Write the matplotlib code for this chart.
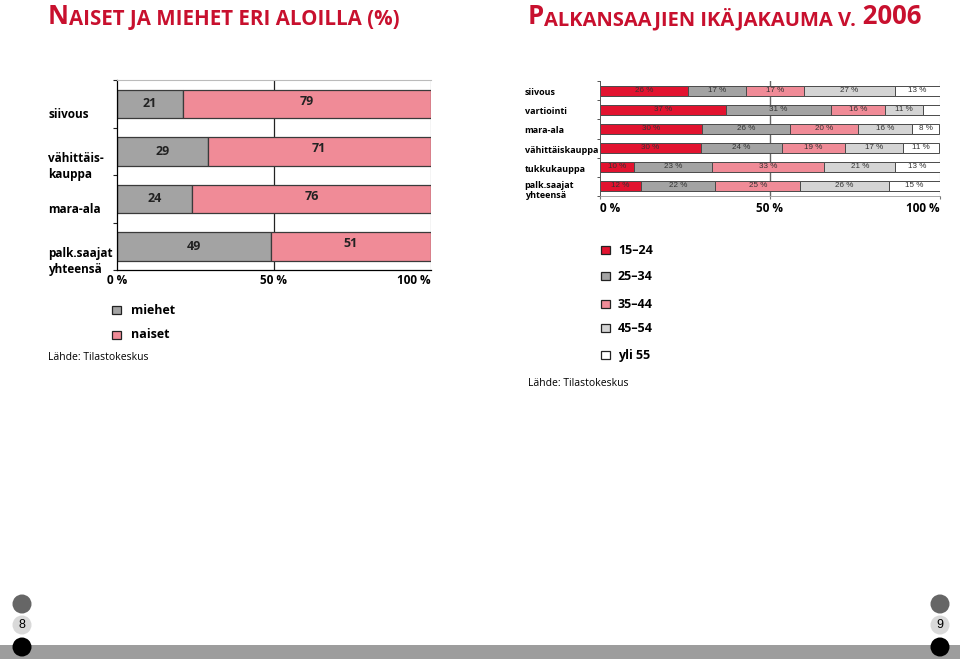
import matplotlib
matplotlib.use('Agg')
import numpy as np
import matplotlib.pyplot as plt
from matplotlib.patches import Rectangle, Circle

plt.rcParams['font.family'] = ['Open Sans', 'DejaVu Sans']

# vasen kaavio: naiset ja miehet eri aloilla (%)
ala = ['siivous', 'vähittäis-\nkauppa', 'mara-ala', 'palk.saajat\nyhteensä']
miehet = [21, 29, 24, 49]
naiset = [79, 71, 76, 51]

# oikea kaavio: palkansaajien ikäjakauma v. 2006
ika_ala = ['siivous', 'vartiointi', 'mara-ala', 'vähittäiskauppa', 'tukkukauppa',
           'palk.saajat\nyhteensä']
ikaryhmat = ['15–24', '25–34', '35–44', '45–54', 'yli 55']
ika_15_24 = [26, 37, 30, 30, 10, 12]
ika_25_34 = [17, 31, 26, 24, 23, 22]
ika_35_44 = [17, 16, 20, 19, 33, 25]
ika_45_54 = [27, 11, 16, 17, 21, 26]
ika_yli55 = [13, 5, 8, 11, 13, 15]

punainen = '#c8102e'
c_gray = '#a3a3a3'
c_pink = '#f08b97'
c_red = '#e2132f'
c_lgray = '#d4d4d4'
ika_colors = [c_red, c_gray, c_pink, c_lgray, 'white']

W, H = 960, 659
fig = plt.figure(figsize=(W / 100, H / 100), dpi=100)

# taustakerros pikseleinä
bg = fig.add_axes([0, 0, 1, 1])
bg.set_xlim(0, W)
bg.set_ylim(H, 0)
bg.axis('off')


def otsikko(x, y, osat):
    prev = None
    for txt, size in osat:
        if prev is None:
            prev = bg.text(x, y, txt, fontsize=size, color=punainen, fontweight='bold',
                           va='baseline', ha='left')
        else:
            prev = bg.annotate(txt, xy=(1, 0), xycoords=prev, fontsize=size, color=punainen,
                               fontweight='bold', va='bottom', ha='left')


otsikko(48, 24, [('N', 18.5), ('AISET JA MIEHET ERI ALOILLA (%)', 14.8)])
otsikko(528, 24, [('P', 18.5), ('ALKANSAAJIEN IKÄJAKAUMA V.', 14.5), (' 2006', 18.5)])

# ---- vasen kaavio
ax1 = fig.add_axes([116.7 / W, 1 - 270 / H, 314 / W, 190 / H])
y1 = np.arange(len(ala))
ax1.axvline(50, color='#222222', lw=0.9, zorder=0)
ax1.axvline(100, color='#aaaaaa', lw=0.9, zorder=0)
ax1.barh(y1, miehet, height=0.6, color=c_gray, edgecolor='#3a3a3a', lw=0.9)
ax1.barh(y1, naiset, left=miehet, height=0.6, color=c_pink, edgecolor='#3a3a3a', lw=0.9)
for i in range(len(ala)):
    ax1.text(miehet[i] / 2, i, str(miehet[i]), ha='center', va='center', fontsize=9,
             fontweight='bold', color='#222222')
    ax1.text(miehet[i] + naiset[i] / 2, i - 0.05, str(naiset[i]), ha='center', va='center',
             fontsize=9, fontweight='bold', color='#222222')
    off = 0.33 if '\n' in ala[i] else 0.22
    ax1.text(-0.218, i + off, ala[i], transform=ax1.get_yaxis_transform(), ha='left',
             va='center', fontsize=8.5, fontweight='bold', linespacing=1.3)
ax1.set_xlim(0, 100)
ax1.set_ylim(len(ala) - 0.5, -0.5)
ax1.set_xticks([0, 50, 100])
ax1.set_xticklabels(['0 %', '50 %', '100 %'], fontsize=8.5, fontweight='bold')
ax1.get_xticklabels()[2].set_ha('right')
ax1.tick_params(axis='x', length=0, pad=3)
ax1.set_yticks(np.arange(-0.5, len(ala), 1))
ax1.set_yticklabels([])
ax1.tick_params(axis='y', length=3, width=0.8, color='#222222')
ax1.spines['right'].set_visible(False)
ax1.spines['top'].set_color('#bbbbbb')
ax1.spines['left'].set_linewidth(0.9)
ax1.spines['bottom'].set_linewidth(0.9)
ax1.patch.set_alpha(0)

# ---- oikea kaavio
ax2 = fig.add_axes([600 / W, 1 - 196 / H, 339.5 / W, 115 / H])
y2 = np.arange(len(ika_ala))
sarjat = np.array([ika_15_24, ika_25_34, ika_35_44, ika_45_54, ika_yli55], dtype=float)
osuus = sarjat / sarjat.sum(axis=0) * 100
ax2.axvline(50, color='#666666', lw=1.0, zorder=0)
ax2.axvline(100, color='#999999', lw=0.8, zorder=0)
vasen = np.zeros(len(ika_ala))
for k in range(len(ikaryhmat)):
    ax2.barh(y2, osuus[k], left=vasen, height=0.53, color=ika_colors[k],
             edgecolor='#4a4a4a', lw=0.7)
    for i in range(len(ika_ala)):
        if sarjat[k, i] >= 6:
            ax2.text(vasen[i] + osuus[k, i] / 2, i - 0.03, '%d %%' % sarjat[k, i],
                     ha='center', va='center', fontsize=5.8, color='#333333',
                     family='Liberation Sans')
    vasen += osuus[k]
for i in range(len(ika_ala)):
    if '\n' in ika_ala[i]:
        ax2.text(-0.222, i - 0.3, ika_ala[i], transform=ax2.get_yaxis_transform(),
                 ha='left', va='top', fontsize=6.5, fontweight='bold', linespacing=1.15)
    else:
        ax2.text(-0.222, i + 0.1, ika_ala[i], transform=ax2.get_yaxis_transform(),
                 ha='left', va='center', fontsize=6.5, fontweight='bold')
ax2.set_xlim(0, 100)
ax2.set_ylim(len(ika_ala) - 0.5, -0.5)
ax2.set_xticks([0, 50, 100])
ax2.set_xticklabels(['0 %', '50 %', '100 %'], fontsize=8.5, fontweight='bold')
ax2.get_xticklabels()[0].set_ha('left')
ax2.get_xticklabels()[2].set_ha('right')
ax2.tick_params(axis='x', length=2, color='#777777', pad=2.5)
ax2.set_yticks(np.arange(-0.5, len(ika_ala), 1))
ax2.set_yticklabels([])
ax2.tick_params(axis='y', length=2, width=0.7, color='#555555')
for s in ['top', 'right']:
    ax2.spines[s].set_visible(False)
ax2.spines['left'].set_color('#555555')
ax2.spines['left'].set_linewidth(0.7)
ax2.spines['bottom'].set_color('#999999')
ax2.spines['bottom'].set_linewidth(0.6)
ax2.patch.set_alpha(0)

# ---- selitteet
for j, (nimi, col) in enumerate(zip(['miehet', 'naiset'], [c_gray, c_pink])):
    yy = 310 + j * 25
    bg.add_patch(Rectangle((112, yy - 4.5), 8.5, 8.5, facecolor=col, edgecolor='#222222', lw=0.9))
    bg.text(131, yy, nimi, fontsize=9, fontweight='bold', va='center', ha='left')
bg.text(48, 358, 'Lähde: Tilastokeskus', fontsize=7.5, va='center', ha='left')

leg_y = [250, 276, 304, 328, 355]
for nimi, col, yy in zip(ikaryhmat, ika_colors, leg_y):
    bg.add_patch(Rectangle((601, yy - 4.5), 8.5, 8.5, facecolor=col, edgecolor='#222222', lw=0.9))
    bg.text(618, yy, nimi, fontsize=9, fontweight='bold', va='center', ha='left')
bg.text(528, 383, 'Lähde: Tilastokeskus', fontsize=7.5, va='center', ha='left')

# ---- sivunumerot ja alareuna
bg.add_patch(Rectangle((0, 645), W, 14, facecolor='#9d9d9d', edgecolor='none'))
for xx, nro in [(22, '8'), (940, '9')]:
    bg.add_patch(Circle((xx, 604), 9.5, facecolor='#666666', edgecolor='none'))
    bg.add_patch(Circle((xx, 625), 9.5, facecolor='#d9d9d9', edgecolor='none'))
    bg.add_patch(Circle((xx, 647), 9.5, facecolor='black', edgecolor='none', zorder=3))
    bg.text(xx, 625, nro, fontsize=9, ha='center', va='center', family='Liberation Sans')

fig.savefig('out.png', dpi=100)
